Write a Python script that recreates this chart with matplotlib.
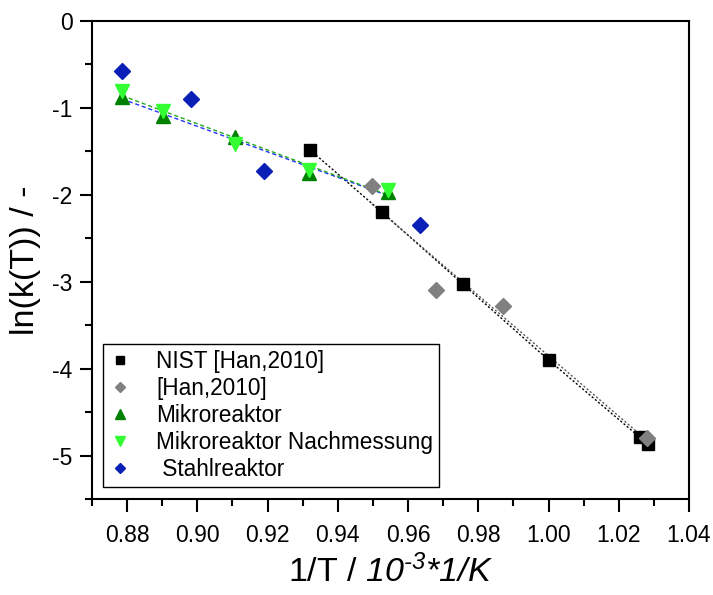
import numpy as np
import matplotlib
matplotlib.use('Agg')
import matplotlib.pyplot as plt
from matplotlib.ticker import MultipleLocator

plt.rcParams['font.family'] = ['Liberation Sans', 'DejaVu Sans']
plt.rcParams['mathtext.fontset'] = 'custom'
plt.rcParams['mathtext.rm'] = 'Liberation Sans:italic'
plt.rcParams['mathtext.it'] = 'Liberation Sans:italic'

# data
nist_x = [0.932, 0.9526, 0.9757, 1.000, 1.026, 1.0283]
nist_y = [-1.48, -2.20, -3.03, -3.90, -4.79, -4.87]

han_x = [0.9497, 0.968, 0.987, 1.028]
han_y = [-1.90, -3.09, -3.28, -4.80]

mikro_x = [0.8786, 0.8903, 0.9106, 0.9317, 0.9543]
mikro_y = [-0.88, -1.09, -1.33, -1.75, -1.97]

nach_x = [0.8786, 0.8903, 0.9106, 0.9317, 0.9543]
nach_y = [-0.81, -1.03, -1.41, -1.71, -1.94]

stahl_x = [0.8786, 0.8983, 0.9189, 0.9634]
stahl_y = [-0.57, -0.90, -1.73, -2.35]

fig = plt.figure(figsize=(7.13, 5.95), dpi=100)
ax = fig.add_axes([0.129, 0.1613, 0.8373, 0.8034])

# trend lines
ax.plot(nist_x, nist_y, color='black', linestyle=(0, (1.5, 1.5)), linewidth=1, zorder=2)
p = np.polyfit(han_x, han_y, 1)
hx = np.array([han_x[0], han_x[-1]])
ax.plot(hx, np.polyval(p, hx), color='#555555', linestyle=(0, (1.5, 1.5)), linewidth=1, zorder=2)
p = np.polyfit(mikro_x, mikro_y, 1)
mx = np.array([mikro_x[0], mikro_x[-1]])
ax.plot(mx, np.polyval(p, mx), color='#2233ff', linestyle=(0, (3, 2)), linewidth=1, zorder=2)
p = np.polyfit(nach_x, nach_y, 1)
ax.plot(mx, np.polyval(p, mx), color='#22aa22', linestyle=(0, (3, 2)), linewidth=1, zorder=2)

ax.plot(nist_x, nist_y, 's', color='black', markersize=8.5, linestyle='none',
        label='NIST [Han,2010]', zorder=3)
ax.plot(han_x, han_y, 'D', color='#808080', markersize=8, linestyle='none',
        label='[Han,2010]', zorder=3)
ax.plot(mikro_x, mikro_y, '^', color='#008000', markersize=10, linestyle='none',
        label='Mikroreaktor', zorder=3)
ax.plot(nach_x, nach_y, 'v', color='#33ff33', markersize=10, linestyle='none',
        label='Mikroreaktor Nachmessung', zorder=4)
ax.plot(stahl_x, stahl_y, 'D', color='#0a1fb5', markersize=8, linestyle='none',
        label=' Stahlreaktor', zorder=3)

ax.set_xlim(0.87, 1.04)
ax.set_ylim(-5.5, 0)
ax.xaxis.set_major_locator(MultipleLocator(0.02))
ax.xaxis.set_minor_locator(MultipleLocator(0.01))
ax.yaxis.set_major_locator(MultipleLocator(1))
ax.yaxis.set_minor_locator(MultipleLocator(0.5))
ax.xaxis.set_major_formatter(plt.FormatStrFormatter('%.2f'))
ax.yaxis.set_major_formatter(plt.FuncFormatter(lambda v, pos: '%d' % v))
ax.tick_params(which='major', direction='out', length=9, width=1.5, labelsize=16.5)
ax.tick_params(axis='x', which='major', pad=9)
ax.tick_params(axis='y', which='major', pad=5)
ax.tick_params(which='minor', direction='out', length=5, width=1.5)
for s in ax.spines.values():
    s.set_linewidth(1.5)

fig.text(0.548, 0.022, '1/T / $10^{\u2010 3}{*}1/K$', fontsize=24.5,
         ha='center', va='baseline')
ax.set_ylabel('ln(k(T)) / -', fontsize=24.5)
ax.yaxis.set_label_coords(-0.085, 0.5)

leg = ax.legend(loc='lower left', bbox_to_anchor=(0.0184, 0.025), fontsize=16.3,
                fancybox=False, framealpha=1, edgecolor='black', borderaxespad=0,
                handlelength=1.0, handletextpad=1.1, borderpad=0.25, labelspacing=0.18,
                markerscale=0.7)
leg.get_frame().set_linewidth(1)

fig.savefig('out.png', dpi=100)
